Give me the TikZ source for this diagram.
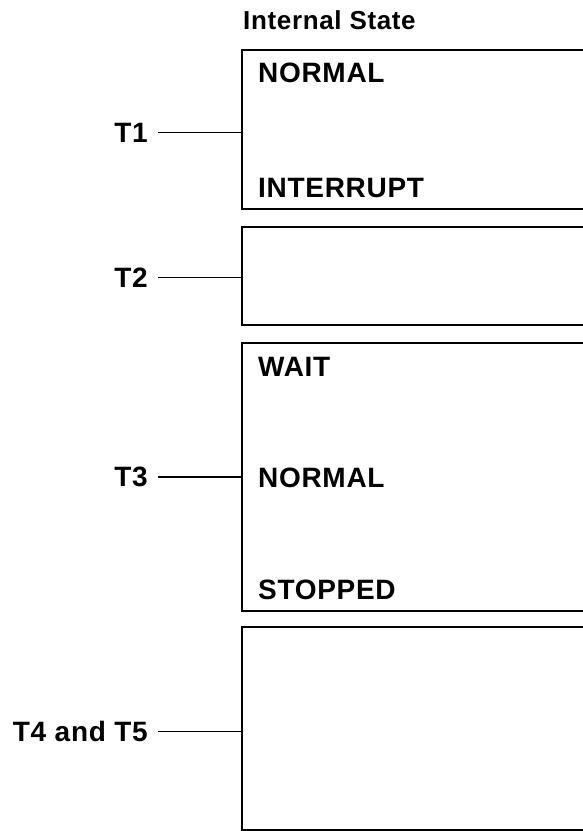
\documentclass[tikz,border=0pt]{standalone}
\usepackage{fontspec}
\setmainfont{Liberation Sans}[LetterSpace=2.5]
\usepackage{tikz}
\usetikzlibrary{positioning}
\tikzset{
  statebox/.style={rectangle,draw=black,line width=1.7pt,
    inner sep=0pt,outer sep=0pt,minimum width=360pt,anchor=north west},
  stxt/.style={font=\fontsize{28}{33}\selectfont\bfseries,
    inner sep=0pt,anchor=base west},
  head/.style={font=\fontsize{26}{31}\selectfont\bfseries,
    inner sep=0pt,anchor=base west},
  tlbl/.style={font=\fontsize{28}{33}\selectfont\bfseries,
    inner xsep=10pt,inner ysep=0pt},
  lnk/.style={line width=1.6pt},
}

\begin{document}
\begin{tikzpicture}[x=1pt,y=1pt]
  \clip (0,0) rectangle (583,-831);
  \node[head] (title) at (243,-29) {Internal State};

  \node[statebox,minimum height=159pt] (box1) at (242,-50) {};
  \node[statebox,minimum height=98pt] (box2) at (242,-227) {};
  \node[statebox,minimum height=268pt] (box3) at (242,-343) {};
  \node[statebox,minimum height=203pt] (box4) at (242,-627) {};

  \node[stxt] (b1norm) at ([shift={(16,-32)}]box1.north west) {NORMAL};
  \node[stxt] (b1intr) at ([shift={(16,12)}]box1.south west) {INTERRUPT};
  \node[stxt] (b3wait) at ([shift={(16,-33)}]box3.north west) {WAIT};
  \node[stxt] (b3norm) at ([shift={(16,-10)}]box3.west) {NORMAL};
  \node[stxt] (b3stop) at ([shift={(16,12)}]box3.south west) {STOPPED};

  \node[tlbl,left=84pt of box1.west,yshift=-3pt] (t1) {T1};
  \node[tlbl,left=84pt of box2.west,yshift=-1.5pt] (t2) {T2};
  \node[tlbl,left=84pt of box3.west] (t3) {T3};
  \node[tlbl,left=84pt of box4.west,yshift=-3pt] (t45) {T4 and T5};

  \draw[lnk] (t1.east) -- (t1.east -| box1.west);
  \draw[lnk] (t2.east) -- (t2.east -| box2.west);
  \draw[lnk] (t3.east) -- (t3.east -| box3.west);
  \draw[lnk] (t45.east) -- (t45.east -| box4.west);
\end{tikzpicture}
\end{document}
